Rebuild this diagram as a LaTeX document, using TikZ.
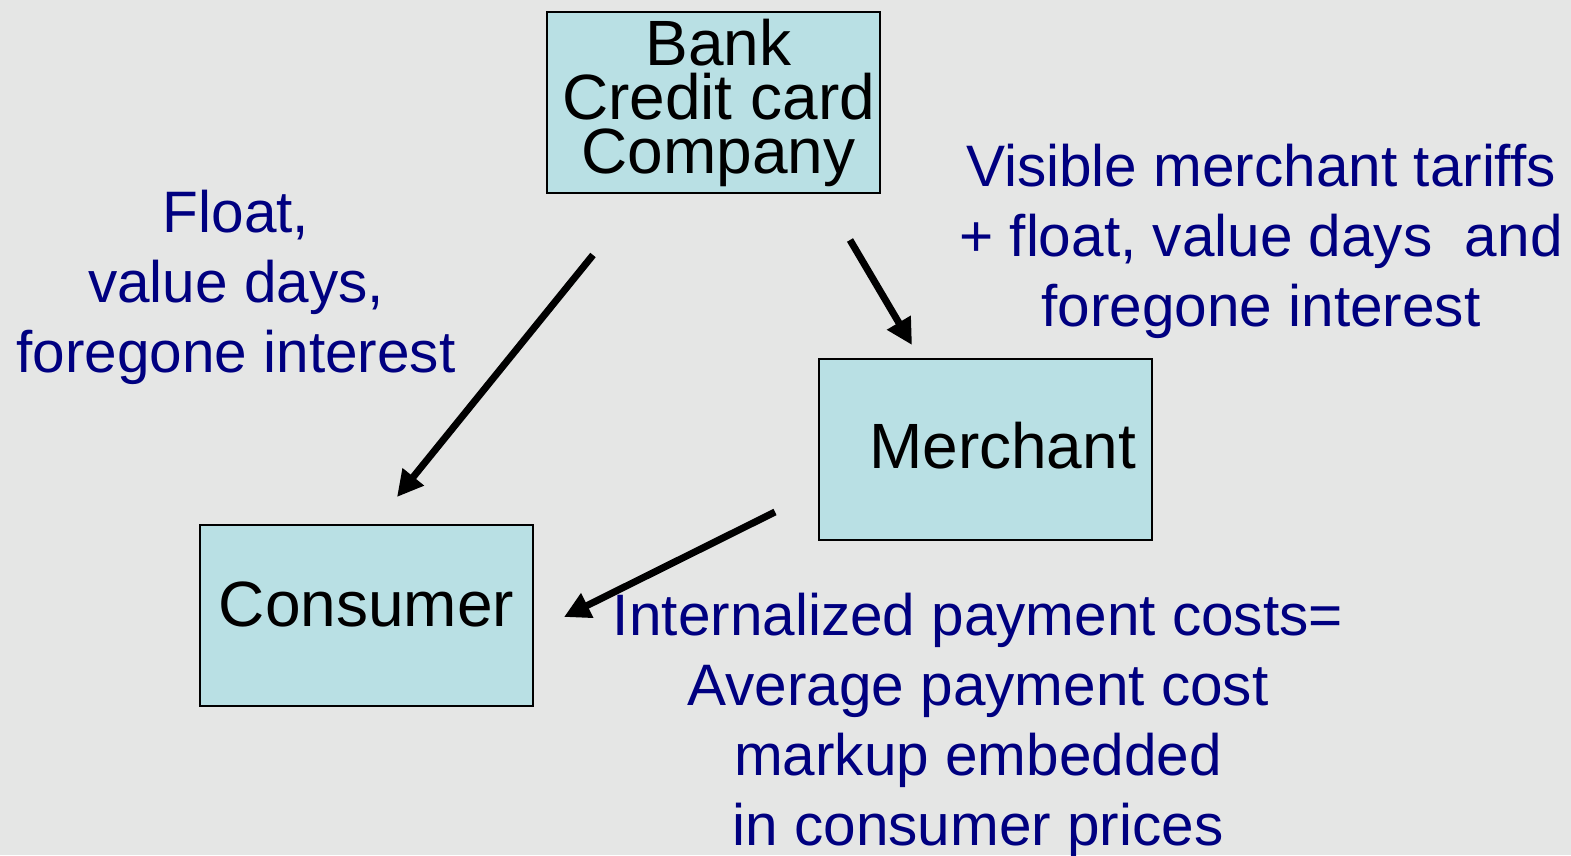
\documentclass[tikz,border=0pt]{standalone}
\usepackage{fontspec}
\setmainfont{Liberation Sans}
\usetikzlibrary{arrows.meta}
\definecolor{pagebg}{RGB}{229,230,229}
\definecolor{boxfill}{RGB}{185,224,228}
\definecolor{notenavy}{RGB}{0,0,128}
\tikzset{
  party/.style={draw=black, line width=1.2pt, fill=boxfill, inner sep=0pt,
    minimum width=333pt, minimum height=181pt, align=center,
    font=\fontsize{64}{54}\selectfont},
  note/.style={text=notenavy, inner sep=0pt, align=center, anchor=base,
    font=\fontsize{58.5}{70}\selectfont},
  flow/.style={line width=7pt, -{Triangle[length=26pt,width=26pt]}}
}
\begin{document}
\begin{tikzpicture}[x=1pt,y=-1pt]
  % canvas
  \fill[pagebg] (0,0) rectangle (1571,855);
  \useasboundingbox (0,0) rectangle (1571,855);

  % parties
  \node[party] (bank) at (713.5,102.5)
    {\hspace*{10pt}Bank\\\hspace*{10pt}Credit card\\\hspace*{10pt}Company};
  \node[party, text depth=9pt] (merchant) at (985.5,449.5) {\hspace*{34pt}Merchant};
  \node[party, text depth=22pt] (consumer) at (366.5,615.5) {Consumer};

  % cost notes (anchored at the baseline of their last line)
  \node[note] (leftnote) at (236,372) {Float,\\value days,\\foregone interest};
  \node[note] (rightnote) at (1261,326) {Visible merchant tariffs\\+ float, value days~ and\\foregone interest};
  \node[note] (bottomnote) at (978,845) {Internalized payment costs=\\Average payment cost\\markup embedded\\in consumer prices};

  % arrow ends
  \coordinate (a1s) at (593,255);
  \coordinate (a1e) at (397,497);
  \coordinate (a2s) at (850,240);
  \coordinate (a2e) at (912,345);
  \coordinate (a3s) at (775,512);
  \coordinate (a3e) at (564,617);

  \draw[flow] (a1s) -- (a1e);
  \draw[flow] (a2s) -- (a2e);
  \draw[flow] (a3s) -- (a3e);
\end{tikzpicture}
\end{document}
